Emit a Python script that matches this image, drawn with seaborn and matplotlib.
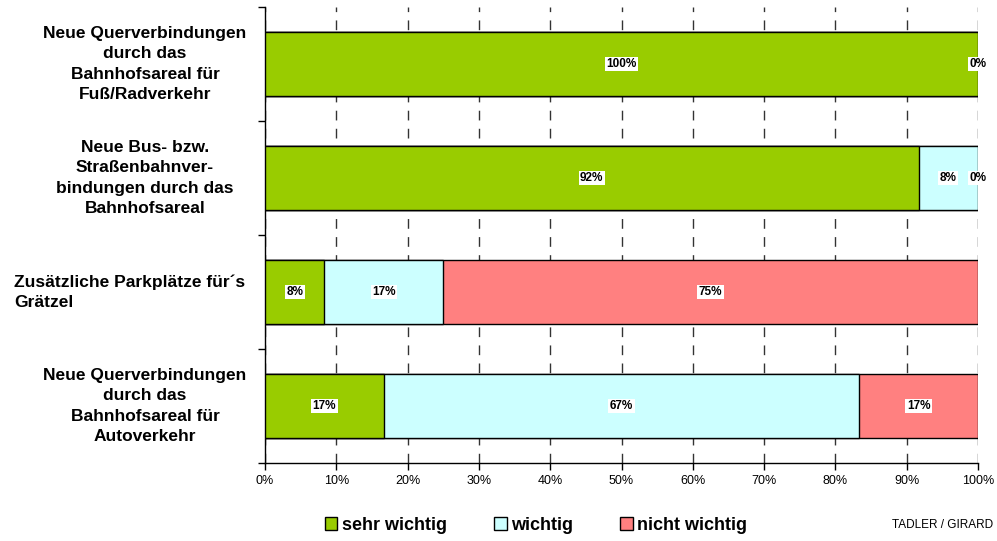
import matplotlib
matplotlib.use("Agg")
import matplotlib.pyplot as plt
import seaborn as sns
import pandas as pd
import numpy as np
from matplotlib.patches import Patch
import matplotlib.transforms as mtransforms

categories = [
    "Neue Querverbindungen\ndurch das\nBahnhofsareal für\nFuß/Radverkehr",
    "Neue Bus- bzw.\nStraßenbahnver-\nbindungen durch das\nBahnhofsareal",
    "Zusätzliche Parkplätze für´s\nGrätzel",
    "Neue Querverbindungen\ndurch das\nBahnhofsareal für\nAutoverkehr",
]
series_names = ["sehr wichtig", "wichtig", "nicht wichtig"]
sehr_wichtig = [100.0, 91.67, 8.33, 16.67]
wichtig = [0.0, 8.33, 16.67, 66.67]
nicht_wichtig = [0.0, 0.0, 75.0, 16.67]
x_ticks = [0, 10, 20, 30, 40, 50, 60, 70, 80, 90, 100]
x_ticklabels = [f"{t}%" for t in x_ticks]

colors = ["#99CC00", "#CCFFFF", "#FF8080"]

sns.set_style("white")
plt.rcParams['font.family'] = ['Liberation Sans', 'DejaVu Sans']
plt.rcParams['text.color'] = 'black'
plt.rcParams['xtick.color'] = 'black'
plt.rcParams['ytick.color'] = 'black'
plt.rcParams['axes.labelcolor'] = 'black'

fig = plt.figure(figsize=(9.97, 5.41), dpi=100)
ax = fig.add_axes([265/997, 1-463/541, (978-265)/997, (463-7)/541])

keys = [f"c{i}" for i in range(len(categories))]
vals = np.array([sehr_wichtig, wichtig, nicht_wichtig])
cum = np.cumsum(vals, axis=0)

# draw back to front (stacked via cumulative totals)
for k in [2, 1, 0]:
    df = pd.DataFrame({"cat": keys, "val": cum[k]})
    sns.barplot(data=df, x="val", y="cat", order=keys, color=colors[k],
                orient="h", width=0.56, edgecolor="black", linewidth=1.0,
                saturation=1, ax=ax, zorder=3)

# segment labels
for i in range(len(categories)):
    start = 0.0
    for k in range(3):
        v = vals[k][i]
        center = start + v / 2
        if v == 0 and k == 2 and vals[1][i] == 0:
            start += v
            continue
        ax.text(center, i, f"{int(round(v))}%", ha="center", va="center",
                fontsize=8.5, fontweight="bold", color="black", zorder=5,
                bbox=dict(facecolor="white", edgecolor="none", pad=1.0),
                clip_on=False)
        start += v

ax.set_xlim(0, 100)
ax.set_ylim(3.5, -0.5)
ax.set_xticks(x_ticks)
ax.set_xticklabels(x_ticklabels, fontsize=9, color="black")
ax.set_xlabel("")
ax.set_ylabel("")

# y: labels placed as text, tick marks at category boundaries
ax.set_yticks([])
ax.set_yticks([-0.5, 0.5, 1.5, 2.5, 3.5], minor=True)
ax.tick_params(axis="y", which="minor", length=5, width=1, color="black", left=True)
ax.tick_params(axis="x", which="major", length=5, width=1, color="black", bottom=True, pad=4)

trans = mtransforms.blended_transform_factory(fig.transFigure, ax.transData)
label_x = [145, 145, 130, 145]
aligns = ["center", "center", "left", "center"]
for i, lab in enumerate(categories):
    ax.text(label_x[i] / 997, i, lab, transform=trans, ha="center", va="center",
            multialignment=aligns[i], fontsize=12.5, fontweight="bold",
            color="black", linespacing=1.45, clip_on=False)

ax.grid(axis="x", color="#333333", linestyle=(0, (7, 6)), linewidth=1, zorder=0)
ax.grid(axis="y", visible=False)
ax.set_axisbelow(True)
for s in ["top", "right"]:
    ax.spines[s].set_visible(False)
for s in ["left", "bottom"]:
    ax.spines[s].set_color("black")
    ax.spines[s].set_linewidth(1)

handles = [Patch(facecolor=c, edgecolor="black", linewidth=1) for c in colors]
fig.legend(handles, series_names, loc="center", bbox_to_anchor=(536/997, 1-525/541),
           ncol=3, frameon=False, prop={"weight": "bold", "size": 13},
           handlelength=0.7, handleheight=0.7, handletextpad=0.25, columnspacing=2.6)

fig.text(993/997, 1-525/541, "TADLER / GIRARD", fontsize=8.5, ha="right", va="center",
         color="black")

fig.savefig("out.png", dpi=100)
